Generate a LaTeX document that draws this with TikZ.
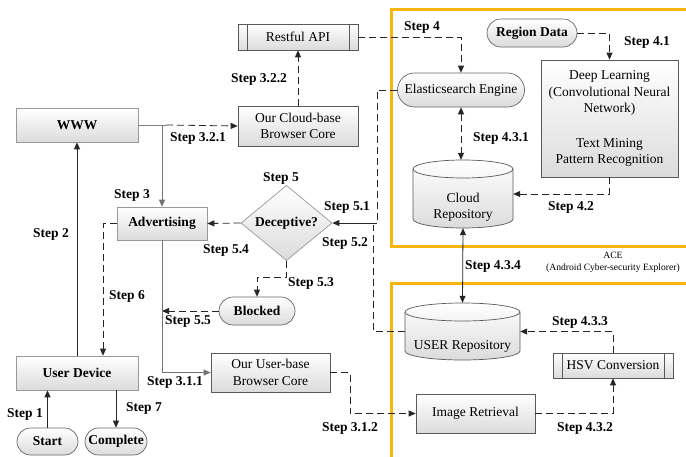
\documentclass[tikz,border=0pt]{standalone}
\usepackage{fontspec}
\setmainfont{Liberation Serif}
\usetikzlibrary{arrows.meta,shapes.misc,shapes.geometric,calc}
\definecolor{aceorange}{RGB}{246,182,12}
\begin{document}
\begin{tikzpicture}[x=1pt,y=-1pt,
  base/.style={font=\fontsize{13.5}{16.5}\selectfont, align=center, inner sep=0pt,
    top color=white, bottom color=black!14, draw=black!65, line width=0.7pt},
  box/.style={base, rectangle},
  lbox/.style={box, draw=black!40},
  pill/.style={base, rounded rectangle, draw=black!60},
  proc/.style={box, path picture={
      \draw[black!65, line width=0.7pt]
        ([xshift=9pt]path picture bounding box.north west) -- ([xshift=9pt]path picture bounding box.south west)
        ([xshift=-9pt]path picture bounding box.north east) -- ([xshift=-9pt]path picture bounding box.south east);}},
  cyltext/.style={font=\fontsize{13.5}{16}\selectfont, inner sep=0pt},
  cylbody/.style={top color=white, bottom color=black!14, draw=black!65, line width=0.7pt},
  lbl/.style={font=\fontsize{13.5}{16}\selectfont\bfseries, inner sep=0pt},
  line/.style={line width=0.8pt, draw=black!85},
  conn/.style={line, -{Triangle[length=7pt,width=6pt]}},
  dconn/.style={line, {Triangle[length=7pt,width=6pt]}-{Triangle[length=7pt,width=6pt]}},
  gline/.style={line width=0.9pt, draw=black!50},
  gconn/.style={gline, -{Triangle[length=7pt,width=6pt]}, black!55},
  dsh/.style={dash pattern=on 7pt off 4pt}
]
\clip (0,0) rectangle (686,456);
\fill[white] (0,0) rectangle (686,456);

% ACE frames
\draw[aceorange, line width=3pt] (391,9) rectangle (710,246);
\draw[aceorange, line width=3pt] (391,283) rectangle (710,480);
\node[font=\fontsize{9.6}{12}\selectfont, align=center, inner sep=0pt] (ace) at (613,262)
  {ACE\\(Android Cyber-security Explorer)};

% cylinders (bodies)
\path[cylbody] (413,169) -- (413,219) arc[start angle=180,end angle=360,x radius=50pt,y radius=9pt]
  -- (513,169) arc[start angle=0,end angle=180,x radius=50pt,y radius=9pt] -- cycle;
\draw[black!65, line width=0.7pt] (413,169) arc[start angle=180,end angle=360,x radius=50pt,y radius=9pt];
\path[cylbody] (405,312) -- (405,351) arc[start angle=180,end angle=360,x radius=57.5pt,y radius=9pt]
  -- (520,312) arc[start angle=0,end angle=180,x radius=57.5pt,y radius=9pt] -- cycle;
\draw[black!65, line width=0.7pt] (405,312) arc[start angle=180,end angle=360,x radius=57.5pt,y radius=9pt];

% nodes
\node[lbox, minimum width=122pt, minimum height=34pt, font=\fontsize{13.5}{16}\selectfont\bfseries] (www) at (77,125) {WWW};
\node[proc, minimum width=120pt, minimum height=26pt] (restful) at (298,37) {Restful API};
\node[box, minimum width=120pt, minimum height=40pt] (cloudcore) at (298,126) {Our Cloud-base\\Browser Core};
\node[pill, minimum width=127pt, minimum height=34pt] (es) at (461,90) {Elasticsearch Engine};
\node[pill, minimum width=90pt, minimum height=28pt, font=\fontsize{13.5}{16}\selectfont\bfseries] (region) at (532,33) {Region Data};
\node[box, minimum width=137pt, minimum height=117pt] (deep) at (609.5,118.5)
  {Deep Learning\\(Convolutional Neural\\Network)\\[18pt]Text Mining\\Pattern Recognition};
\node[cyltext, minimum width=100pt, minimum height=68pt] (cloud) at (463,194)
  {\raisebox{-16.5pt}[0pt][0pt]{\begin{tabular}{@{}c@{}}Cloud\\Repository\end{tabular}}};
\node[lbox, minimum width=90pt, minimum height=33pt, font=\fontsize{13.5}{16}\selectfont\bfseries] (adv) at (162,223.5) {Advertising};
\node[base, diamond, draw=black!40, minimum width=91pt, minimum height=70pt, font=\fontsize{13.5}{16}\selectfont\bfseries] (dec) at (286.5,223) {Deceptive?};
\node[pill, minimum width=76pt, minimum height=28pt, font=\fontsize{13.5}{16}\selectfont\bfseries] (blocked) at (257,311) {Blocked};
\node[lbox, minimum width=122pt, minimum height=34pt, font=\fontsize{13.5}{16}\selectfont\bfseries] (ud) at (77,373) {User Device};
\node[pill, minimum width=61pt, minimum height=27pt, font=\fontsize{13.5}{16}\selectfont\bfseries] (start) at (47.5,441.5) {Start};
\node[pill, minimum width=62pt, minimum height=27pt, font=\fontsize{13.5}{16}\selectfont\bfseries] (complete) at (116,441.5) {Complete};
\node[box, minimum width=119pt, minimum height=39pt] (ubc) at (270.5,372.5) {Our User-base\\Browser Core};
\node[cyltext, minimum width=115pt, minimum height=57pt] (userrepo) at (462.5,331.5)
  {\raisebox{-18pt}[0pt][0pt]{USER Repository}};
\node[proc, minimum width=120pt, minimum height=25pt] (hsv) at (613,365.5) {HSV Conversion};
\node[box, minimum width=119pt, minimum height=39pt] (img) at (475.5,413.5) {Image Retrieval};

% junctions
\coordinate (j1) at (www.east -| adv.north);
\coordinate (j51) at (377,223);
\coordinate (j52) at (373,225);

% connectors
\draw[conn] (start.north) -- (start.north |- ud.south);
\draw[conn] (ud.south -| complete.north) -- (complete.north);
\draw[conn] (ud.north) -- (www.south);
\draw[gline] (www.east) -- ([xshift=4pt]j1);
\draw[conn, dsh] ([xshift=4pt]j1) -- (cloudcore.west);
\draw[gconn] (www.east -| adv.north) -- (adv.north);
\draw[conn, dsh] (cloudcore.north) -- (restful.south);
\draw[conn, dsh] (restful.east) -| (es.north);
\draw[conn, dsh] (region.east) -| (deep.north);
\draw[conn, dsh] (deep.south) |- (cloud.east);
\draw[dconn, dsh] (es.south) -- (es.south |- cloud.north);
\draw[dconn] (cloud.south) -- (userrepo.north);
\draw[line, dsh] (es.west) -| (j51);
\draw[conn] (j51) -- (dec.east);
\draw[line, dsh] (userrepo.west) -| (j52);
\draw[conn, dsh] (dec.west) -- (adv.east);
\draw[conn, dsh] (dec.south) -- ++(0,16) -| (blocked.north);
\draw[conn, dsh] (blocked.west) -- (blocked.west -| adv.south);
\draw[gconn] (adv.south) |- (ubc.west);
\draw[conn, dsh] (adv.west) -| ([xshift=26pt]ud.north);
\draw[conn, dsh] (ubc.east) -- ++(20,0) |- (img.west);
\draw[conn, dsh] (img.east) -| (hsv.south);
\draw[conn, dsh] (hsv.north) |- (userrepo.east);

% step labels
\node[lbl] at (259,79) {Step 3.2.2};
\node[lbl] at (198,138) {Step 3.2.1};
\node[lbl] at (422,27) {Step 4};
\node[lbl] at (647,42) {Step 4.1};
\node[lbl] at (501,138) {Step 4.3.1};
\node[lbl] at (571,207) {Step 4.2};
\node[lbl] at (493,266) {Step 4.3.4};
\node[lbl] at (132,195) {Step 3};
\node[lbl] at (51,234) {Step 2};
\node[lbl] at (226,250) {Step 5.4};
\node[lbl] at (281,178) {Step 5};
\node[lbl] at (347,207) {Step 5.1};
\node[lbl] at (345,243) {Step 5.2};
\node[lbl] at (311,283) {Step 5.3};
\node[lbl] at (127,296) {Step 6};
\node[lbl] at (188,321) {Step 5.5};
\node[lbl] at (175,382) {Step 3.1.1};
\node[lbl] at (25,414) {Step 1};
\node[lbl] at (144,408) {Step 7};
\node[lbl] at (350,428) {Step 3.1.2};
\node[lbl] at (585,428) {Step 4.3.2};
\node[lbl] at (580,322) {Step 4.3.3};
\end{tikzpicture}
\end{document}
